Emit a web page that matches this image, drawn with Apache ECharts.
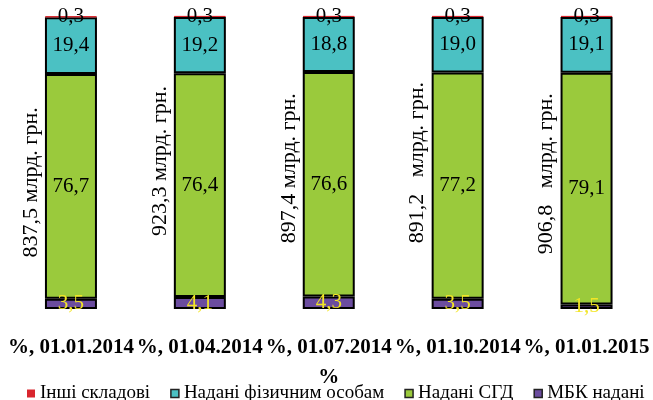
<!DOCTYPE html>
<html>
<head>
<meta charset="utf-8">
<script src="https://cdn.jsdelivr.net/npm/echarts@6/dist/echarts.min.js"></script>
<style>html,body{margin:0;padding:0;background:#fff}#c{width:653px;height:400px}</style>
</head>
<body>
<div id="c"></div>
<script>
const categories = ['%, 01.01.2014', '%, 01.04.2014', '%, 01.07.2014', '%, 01.10.2014', '%, 01.01.2015'];
const mbk = [3.5, 4.1, 4.3, 3.5, 1.5];
const sgd = [76.7, 76.4, 76.6, 77.2, 79.1];
const fiz = [19.4, 19.2, 18.8, 19.0, 19.1];
const other = [0.3, 0.3, 0.3, 0.3, 0.3];
const totals = ['837,5 млрд. грн.', '923,3 млрд. грн.', '897,4 млрд. грн.', '891,2   млрд. грн.', '906,8   млрд. грн.'];
const seriesNames = ['Інші складові', 'Надані фізичним особам', 'Надані СГД', 'МБК надані'];
const axisName = '%';

// styling (not data)
const totalShift = [-4, -24, -16, -23, -15];
const barW = 52;
const FONT = 'Liberation Serif';
const fmt = v => v.toFixed(1).replace('.', ',');

const chart = echarts.init(document.getElementById('c'), null, {renderer: 'canvas'});
const lbl = (color) => ({show: true, position: 'inside', color: color, fontFamily: FONT, fontSize: 21,
  formatter: p => fmt(p.value)});
const border = {borderColor: '#000', borderWidth: 2};
const legTxt = {fontFamily: FONT, fontSize: 19, color: '#000'};

chart.setOption({
  animation: false,
  textStyle: {fontFamily: FONT},
  grid: {left: 6.5, right: 2, top: 16, bottom: 91, containLabel: false},
  legend: {
    bottom: -3, left: 27, width: 660, itemWidth: 8, itemHeight: 8, itemGap: 20, icon: 'rect',
    padding: 0,
    textStyle: legTxt,
    data: [
      {name: seriesNames[0], textStyle: legTxt, itemStyle: {borderWidth: 0}},
      {name: seriesNames[1], textStyle: legTxt, itemStyle: {borderColor: '#222', borderWidth: 1.5}},
      {name: seriesNames[2], textStyle: legTxt, itemStyle: {borderColor: '#222', borderWidth: 1.5}},
      {name: seriesNames[3], textStyle: legTxt, itemStyle: {borderColor: '#222', borderWidth: 1.5}}
    ]
  },
  xAxis: {
    type: 'category', data: categories,
    name: axisName, nameLocation: 'middle', nameGap: 58,
    nameTextStyle: {fontFamily: FONT, fontSize: 21, fontWeight: 'bold', color: '#000'},
    axisLine: {show: false}, axisTick: {show: false},
    axisLabel: {interval: 0, margin: 28, fontFamily: FONT, fontSize: 21, fontWeight: 'bold', color: '#000'}
  },
  yAxis: {type: 'value', min: 0, max: 100, show: false, splitLine: {show: false}},
  series: [
    {name: seriesNames[3], type: 'bar', stack: 's', barWidth: barW, data: mbk,
     itemStyle: Object.assign({color: '#6B4C9F'}, border), label: lbl('#F2E526')},
    {name: seriesNames[2], type: 'bar', stack: 's', barWidth: barW, data: sgd,
     itemStyle: Object.assign({color: '#9ACA3C'}, border), label: lbl('#000')},
    {name: seriesNames[1], type: 'bar', stack: 's', barWidth: barW, data: fiz,
     itemStyle: Object.assign({color: '#4BC1C3'}, border), label: lbl('#000')},
    {name: seriesNames[0], type: 'bar', stack: 's', barWidth: barW, data: other,
     itemStyle: {color: '#D9262E', borderColor: '#D9262E', borderWidth: 1}, label: lbl('#000')},
    {type: 'custom', name: 'totals', data: categories.map((c, i) => [i, 0]),
     encode: {x: 0, y: 1}, silent: true, z: 5,
     renderItem: (params, api) => {
       const i = api.value(0);
       const c = api.coord([i, mbk[i] + sgd[i] / 2]);
       return {
         type: 'text', x: c[0] - barW / 2 - 3, y: c[1] + totalShift[i], rotation: Math.PI / 2,
         style: {text: totals[i], fill: '#000', font: '22px "Liberation Serif"', align: 'center', verticalAlign: 'bottom'}
       };
     }}
  ]
});
</script>
</body>
</html>
